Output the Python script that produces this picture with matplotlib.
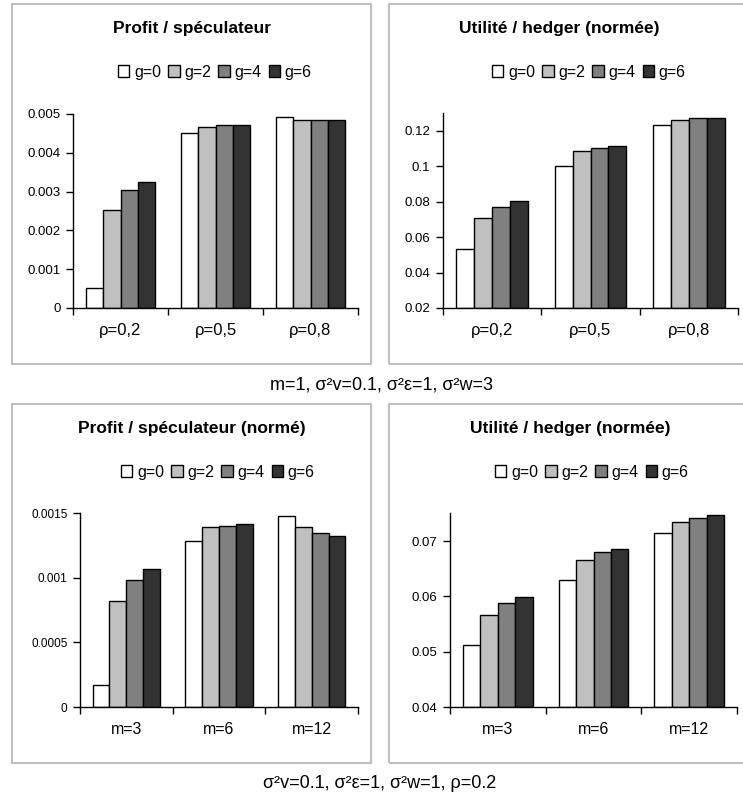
import numpy as np
import matplotlib
matplotlib.use('Agg')
import matplotlib.pyplot as plt
from matplotlib.patches import Rectangle

plt.rcParams['font.family'] = ['Liberation Sans', 'DejaVu Sans']

# series names and colours
series = ['g=0', 'g=2', 'g=4', 'g=6']
colors = ['#ffffff', '#c0c0c0', '#808080', '#333333']

# top row: varying rho
rho_labels = ['ρ=0,2', 'ρ=0,5', 'ρ=0,8']
profit_rho = {
    'g=0': [0.00052, 0.00451, 0.00491],
    'g=2': [0.00252, 0.00467, 0.00484],
    'g=4': [0.00303, 0.00472, 0.00484],
    'g=6': [0.00324, 0.00472, 0.00484],
}
utility_rho = {
    'g=0': [0.0533, 0.0999, 0.1234],
    'g=2': [0.0708, 0.1085, 0.1260],
    'g=4': [0.0769, 0.1104, 0.1270],
    'g=6': [0.0805, 0.1113, 0.1270],
}

# bottom row: varying m
m_labels = ['m=3', 'm=6', 'm=12']
profit_m = {
    'g=0': [0.000168, 0.001281, 0.001474],
    'g=2': [0.000817, 0.001389, 0.001392],
    'g=4': [0.000982, 0.001402, 0.001343],
    'g=6': [0.001064, 0.001412, 0.001320],
}
utility_m = {
    'g=0': [0.0512, 0.0630, 0.0714],
    'g=2': [0.0567, 0.0666, 0.0734],
    'g=4': [0.0588, 0.0681, 0.0742],
    'g=6': [0.0599, 0.0686, 0.0748],
}

W, H = 743, 796
fig = plt.figure(figsize=(W / 100, H / 100), dpi=100)


def px_rect(left, top, right, bottom):
    return [left / W, 1 - bottom / H, (right - left) / W, (bottom - top) / H]


def panel(ax_px, box_px, title, title_xy, leg_xy, cats, data, ylim, yticks,
          tick_fs, cat_fs):
    # grey frame around each chart
    l, t, r, b = box_px
    fig.patches.append(Rectangle((l / W, 1 - b / H), (r - l) / W, (b - t) / H,
                                 transform=fig.transFigure, fill=False,
                                 edgecolor='#c0c0c0', linewidth=1.5))
    ax = fig.add_axes(px_rect(*ax_px))
    x = np.arange(len(cats))
    bw = 0.182
    handles = []
    for i, s in enumerate(series):
        bars = ax.bar(x + (i - 1.5) * bw, np.array(data[s]) - ylim[0], bw,
                      bottom=ylim[0], color=colors[i], edgecolor='black',
                      linewidth=1.0, label=s)
        handles.append(bars)
    ax.set_xlim(-0.5, len(cats) - 0.5)
    ax.set_ylim(*ylim)
    ax.set_yticks(yticks)
    ax.set_yticklabels(['%g' % v for v in yticks], fontsize=tick_fs)
    ax.set_xticks(np.arange(len(cats) + 1) - 0.5)
    ax.set_xticklabels([])
    ax.set_xticks(x, minor=True)
    ax.set_xticklabels(cats, minor=True, fontsize=cat_fs)
    ax.tick_params(axis='x', which='minor', length=0, pad=11)
    ax.tick_params(axis='x', which='major', direction='out', length=5, width=1)
    ax.tick_params(axis='y', direction='out', length=5, width=1, pad=4)
    for sp in ['top', 'right']:
        ax.spines[sp].set_visible(False)
    for sp in ['left', 'bottom']:
        ax.spines[sp].set_linewidth(1.0)
    fig.text(title_xy[0] / W, 1 - title_xy[1] / H, title, ha='center',
             va='center', fontsize=12.5, fontweight='bold')
    fig.legend(handles=handles, labels=series, loc='center',
               bbox_to_anchor=(leg_xy[0] / W, 1 - leg_xy[1] / H), ncol=4,
               frameon=False, fontsize=11.5, handlelength=0.7,
               handleheight=0.7, handletextpad=0.3, columnspacing=0.45,
               borderpad=0)
    return ax


panel((73, 114, 358, 308), (12, 4, 371, 364), 'Profit / spéculateur',
      (192, 28), (215, 72), rho_labels, profit_rho, (0, 0.005),
      [0, 0.001, 0.002, 0.003, 0.004, 0.005], 9.5, 12)
panel((443, 113, 738, 308), (389, 4, 760, 364), 'Utilité / hedger (normée)',
      (559, 28), (589, 72), rho_labels, utility_rho, (0.02, 0.13),
      [0.02, 0.04, 0.06, 0.08, 0.1, 0.12], 9.5, 12)
panel((80, 513, 358, 707), (12, 404, 371, 763), 'Profit / spéculateur (normé)',
      (192, 428), (218, 472), m_labels, profit_m, (0, 0.0015),
      [0, 0.0005, 0.001, 0.0015], 8.5, 11.5)
panel((450, 513, 737, 707), (389, 404, 760, 763), 'Utilité / hedger (normée)',
      (570, 428), (592, 472), m_labels, utility_m, (0.04, 0.0751),
      [0.04, 0.05, 0.06, 0.07], 9.5, 11.5)

fig.text(381 / W, 1 - 385 / H, 'm=1, σ²v=0.1, σ²ε=1, σ²w=3', ha='center',
         va='center', fontsize=13)
fig.text(380 / W, 1 - 783 / H, 'σ²v=0.1, σ²ε=1, σ²w=1, ρ=0.2', ha='center',
         va='center', fontsize=13)

fig.savefig('out.png', dpi=100)
